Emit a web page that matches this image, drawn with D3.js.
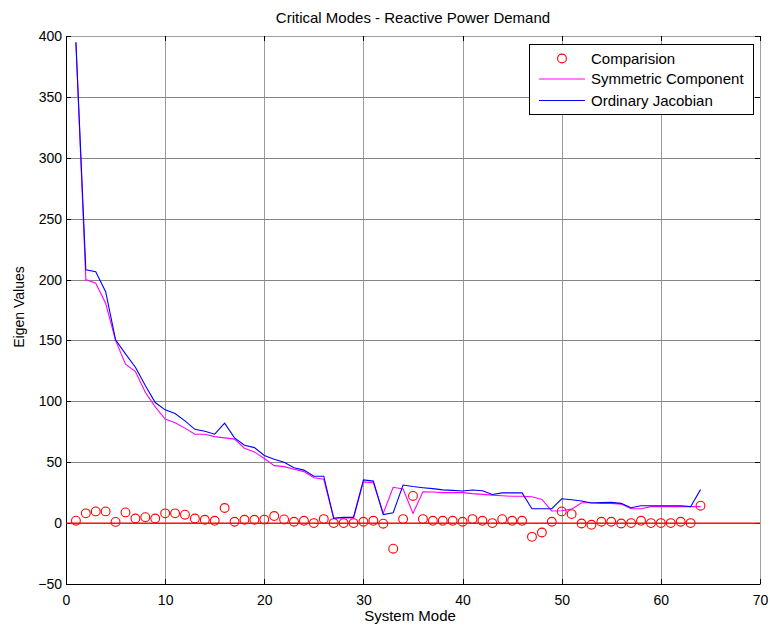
<!DOCTYPE html>
<html>
<head>
<meta charset="utf-8">
<script src="https://cdn.jsdelivr.net/npm/d3@7"></script>
<style>
  html, body { margin: 0; padding: 0; background: #fff; }
  svg { display: block; }
  text { font-family: "Liberation Sans", Arial, sans-serif; fill: #000; }
</style>
</head>
<body>
<svg id="chart" width="770" height="626"></svg>
<script>
const modes = [1,2,3,4,5,6,7,8,9,10,11,12,13,14,15,16,17,18,19,20,21,22,23,24,25,26,27,28,29,30,31,32,
  33,34,35,36,37,38,39,40,41,42,43,44,45,46,47,48,49,50,51,52,53,54,55,56,57,58,59,60,61,62,63,64];

const ordinaryJacobian = [395,208,206.5,190,150.5,139,128,113,99,93,90,84,77,75.5,73,82,70,64,62,55.5,
  52.5,50,45.5,43.5,38.5,38.5,4,4.7,4.7,35.5,34.5,7,8.5,31.3,30,29.1,28.3,27.3,26.9,26.4,27.2,26.6,
  23.5,24.8,24.8,24.8,11.8,11.8,11.8,20,19.2,18.1,16.5,16.8,17,16.2,12.6,14.3,14.3,14.3,14.3,14.3,13.5,27.5];

const symmetricComponent = [394,200,197,180.5,150,130.5,124.5,107.5,95.5,85.5,82.5,78,73,73,71,70,69,61.5,
  58.5,53,47.2,46.4,44.2,42.3,37.3,36,4,4.5,4.2,33.8,33.2,8,29.4,28,8,25.8,25.5,25,25,25,24.2,23.6,
  23,22.5,22,22,21.7,19.5,9.9,10.2,11.5,16.7,16.7,16.2,16.2,15.6,11.8,11.8,13.5,13.5,13.5,13.5,13.5,13.5];

const comparison = [2,8,9.6,9.6,1,8.8,3.8,4.9,3.8,8,8,6.9,3.8,2.7,1.9,12.4,1.1,2.7,2.7,2.9,5.8,3,1.1,1.9,
  0,3.3,0,0,0,1.1,1.9,-0.5,-21,3.3,22.3,3.3,1.9,1.9,1.9,1.1,3.3,1.9,0,3.2,1.9,1.9,-11.3,-7.7,1.1,9.6,
  7.4,-0.3,-1.4,1.1,1.1,-0.3,0,1.9,0,0,0,1.1,0,14.3];

const xTicks = [0,10,20,30,40,50,60,70];
const yTicks = [-50,0,50,100,150,200,250,300,350,400];
const seriesNames = ["Comparision", "Symmetric Component", "Ordinary Jacobian"];
const titleText = "Critical Modes - Reactive Power Demand";
const xLabelText = "System Mode";
const yLabelText = "Eigen Values";

const L = 66, R = 760, T = 36, B = 584;
const svg = d3.select("#chart");

const x = d3.scaleLinear().domain([0, 70]).range([L, R]);
const y = d3.scaleLinear().domain([-50, 400]).range([B, T]);

// grid
const grid = svg.append("g").attr("shape-rendering", "crispEdges");
grid.selectAll("line.gx").data(xTicks.slice(1, -1)).enter().append("line")
  .attr("x1", d => Math.round(x(d)) + 0.5).attr("x2", d => Math.round(x(d)) + 0.5)
  .attr("y1", T).attr("y2", B).attr("stroke", "#9a9a9a").attr("stroke-width", 1);
grid.selectAll("line.gy").data(yTicks.slice(1, -1)).enter().append("line")
  .attr("y1", d => Math.round(y(d)) + 0.5).attr("y2", d => Math.round(y(d)) + 0.5)
  .attr("x1", L).attr("x2", R).attr("stroke", "#858585").attr("stroke-width", 1);

// frame top/right (light) 
svg.append("line").attr("x1", L).attr("x2", R).attr("y1", T + 0.5).attr("y2", T + 0.5)
  .attr("stroke", "#a0a0a0").attr("shape-rendering", "crispEdges");
svg.append("line").attr("x1", R + 0.5).attr("x2", R + 0.5).attr("y1", T).attr("y2", B)
  .attr("stroke", "#a0a0a0").attr("shape-rendering", "crispEdges");

// axes
const xAxis = d3.axisBottom(x).tickValues(xTicks).tickSize(0).tickPadding(11);
const gx = svg.append("g").attr("transform", `translate(0,${B})`).call(xAxis);
gx.select(".domain").attr("stroke", "#000");
gx.selectAll("text").attr("font-size", 14).attr("font-family", "Liberation Sans, Arial, sans-serif").attr("fill", "#000");

const yAxis = d3.axisLeft(y).tickValues(yTicks).tickSize(0).tickPadding(4);
const gy = svg.append("g").attr("transform", `translate(${L},0)`).call(yAxis);
gy.select(".domain").attr("stroke", "#000");
gy.selectAll("text").attr("font-size", 14).attr("font-family", "Liberation Sans, Arial, sans-serif").attr("fill", "#000");

// inward ticks on all sides
const tk = svg.append("g").attr("stroke", "#000").attr("shape-rendering", "crispEdges");
xTicks.forEach(d => {
  const px = Math.round(x(d)) + 0.5;
  tk.append("line").attr("x1", px).attr("x2", px).attr("y1", B).attr("y2", B - 5);
  tk.append("line").attr("x1", px).attr("x2", px).attr("y1", T).attr("y2", T + 5);
});
yTicks.forEach(d => {
  const py = Math.round(y(d)) + 0.5;
  tk.append("line").attr("y1", py).attr("y2", py).attr("x1", L).attr("x2", L + 5);
  tk.append("line").attr("y1", py).attr("y2", py).attr("x1", R).attr("x2", R - 5);
});

// zero line
svg.append("line").attr("x1", x(0)).attr("x2", x(70)).attr("y1", y(0)).attr("y2", y(0))
  .attr("stroke", "#ff0000").attr("stroke-width", 1.2);

// comparison circles
svg.append("g").selectAll("circle").data(modes).enter().append("circle")
  .attr("cx", (d, i) => x(d)).attr("cy", (d, i) => y(comparison[i]))
  .attr("r", 4.4).attr("fill", "none").attr("stroke", "#ff0000").attr("stroke-width", 1.1);

const line = d3.line().x(d => x(d[0])).y(d => y(d[1]));
svg.append("path").datum(modes.map((m, i) => [m, symmetricComponent[i]]))
  .attr("d", line).attr("fill", "none").attr("stroke", "#ff00ff").attr("stroke-width", 1.1);
svg.append("path").datum(modes.map((m, i) => [m, ordinaryJacobian[i]]))
  .attr("d", line).attr("fill", "none").attr("stroke", "#0000ff").attr("stroke-width", 1.1);

// title & labels
svg.append("text").attr("x", 413).attr("y", 23).attr("text-anchor", "middle")
  .attr("font-size", 15).text(titleText);
svg.append("text").attr("x", 410).attr("y", 621).attr("text-anchor", "middle")
  .attr("font-size", 15).text(xLabelText);
svg.append("text").attr("transform", "translate(24,307) rotate(-90)").attr("text-anchor", "middle")
  .attr("font-size", 14).text(yLabelText);

// legend
const lg = svg.append("g");
lg.append("rect").attr("x", 529.5).attr("y", 44.5).attr("width", 224).attr("height", 70)
  .attr("fill", "#fff").attr("stroke", "#000").attr("stroke-width", 1);
const rows = [58.5, 79, 100.5];
lg.append("circle").attr("cx", 562).attr("cy", rows[0]).attr("r", 4.4)
  .attr("fill", "none").attr("stroke", "#ff0000").attr("stroke-width", 1.1);
lg.append("line").attr("x1", 539).attr("x2", 585).attr("y1", rows[1]).attr("y2", rows[1])
  .attr("stroke", "#ff00ff").attr("stroke-width", 1.1);
lg.append("line").attr("x1", 539).attr("x2", 585).attr("y1", rows[2]).attr("y2", rows[2])
  .attr("stroke", "#0000ff").attr("stroke-width", 1.1);
seriesNames.forEach((n, i) => {
  lg.append("text").attr("x", 591).attr("y", rows[i]).attr("dy", "0.35em")
    .attr("font-size", 15).text(n);
});
</script>
</body>
</html>
